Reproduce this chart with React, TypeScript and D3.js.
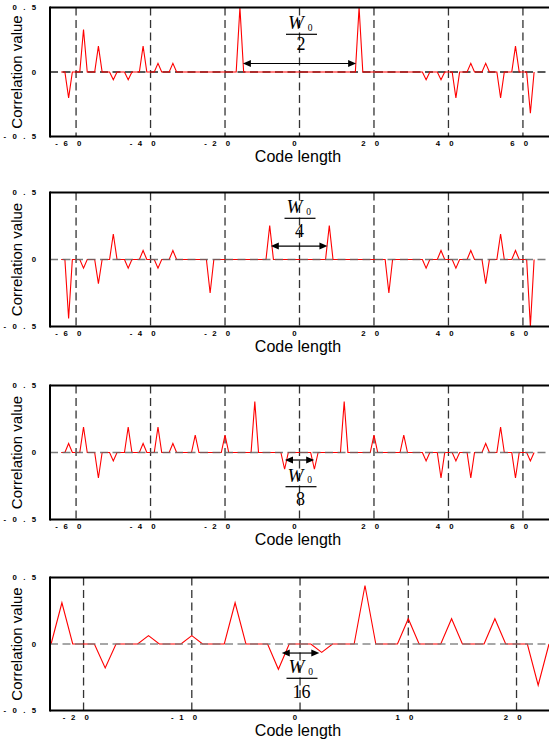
import React from "react";
import * as d3 from "d3";

// Correlation value vs. code length, four stacked panels (W0/2, W0/4, W0/8, W0/16).
// Non-zero lags of each trace; every other integer lag sits on the zero line.
const longLags = d3.range(-64, 64);
const shortLags = d3.range(-23, 24);

const p1Lags = [-62, -58, -54, -50, -46, -42, -38, -34, -16, 16, 34, 38, 42, 46, 50, 54, 58, 62];
const p1Vals = [-0.2, 0.33, 0.2, -0.06, -0.06, 0.2, 0.067, 0.067, 0.5, 0.5, -0.06, -0.06, -0.2, 0.067, 0.067, -0.2, 0.2, -0.32];

const p2Lags = [-62, -58, -54, -50, -46, -42, -38, -34, -24, -8, 8, 24, 34, 38, 42, 46, 50, 54, 58, 62];
const p2Vals = [-0.44, -0.065, -0.18, 0.19, -0.065, 0.067, -0.065, 0.067, -0.25, 0.254, 0.254, -0.25, -0.065, 0.067, -0.065, 0.067, -0.18, 0.19, 0.067, -0.5];

const p3Lags = [-62, -58, -54, -50, -46, -42, -38, -34, -28, -20, -12, -4, 4, 12, 20, 28, 34, 38, 42, 46, 50, 54, 58, 62];
const p3Vals = [0.067, 0.19, -0.19, -0.063, 0.19, 0.067, 0.19, 0.067, 0.13, 0.13, 0.38, -0.125, -0.125, 0.38, 0.13, 0.13, -0.063, -0.19, -0.063, -0.19, 0.067, 0.19, -0.19, -0.063];

const p4Lags = [-22, -18, -14, -10, -6, -2, 2, 6, 10, 14, 18, 22];
const p4Vals = [0.31, -0.18, 0.0625, 0.0625, 0.31, -0.19, -0.0625, 0.44, 0.19, 0.19, 0.19, -0.31];

const longTicks = [-60, -40, -20, 0, 20, 40, 60];
const shortTicks = [-20, -10, 0, 10, 20];
const yTicks = [0.5, 0, -0.5];
const yTickLabels = ["0.5", "0", "-0.5"];
const denominators = ["2", "4", "8", "16"];
const arrowSpans = [[-15.2, 15.2], [-7.7, 7.5], [-3.9, 3.95], [-1.69, 1.78]];
const arrowLevels = [0.066, 0.1, -0.056, -0.068];

const yTitle = "Correlation value";
const xTitle = "Code length";

const SANS = "'Liberation Sans', Arial, Helvetica, sans-serif";
const SERIF = "'Liberation Serif', 'Times New Roman', serif";
const LEFT = 50;
const RIGHT = 549;

type Layout = {
  top: number; bottom: number; tickDy: number; titleDy: number; domain: [number, number];
  zeroOnTop: boolean; zeroColor: string; cx: number; barY: number; numDy: number;
};

const layouts: Layout[] = [
  { top: 7.5, bottom: 136.5, tickDy: 6.5, titleDy: 25, domain: [-67, 67], zeroOnTop: false, zeroColor: "#222", cx: 301, barY: 34.3, numDy: 15.7 },
  { top: 192.5, bottom: 326.5, tickDy: 7, titleDy: 25, domain: [-67, 67], zeroOnTop: true, zeroColor: "#666", cx: 299.5, barY: 218.3, numDy: 18.5 },
  { top: 385.5, bottom: 519.5, tickDy: 7, titleDy: 25, domain: [-67, 67], zeroOnTop: true, zeroColor: "#666", cx: 300.5, barY: 486.7, numDy: 18.3 },
  { top: 577.5, bottom: 710.5, tickDy: 7, titleDy: 25, domain: [-23.1, 23], zeroOnTop: true, zeroColor: "#777", cx: 301.5, barY: 678.3, numDy: 19.5 },
];

function series(lags: number[], nz: number[], vals: number[]) {
  return lags.map((l) => {
    const i = nz.indexOf(l);
    return { x: l, y: i >= 0 ? vals[i] : 0 };
  });
}

const panelData = [
  { pts: series(longLags, p1Lags, p1Vals), ticks: longTicks },
  { pts: series(longLags, p2Lags, p2Vals), ticks: longTicks },
  { pts: series(longLags, p3Lags, p3Vals), ticks: longTicks },
  { pts: series(shortLags, p4Lags, p4Vals), ticks: shortTicks },
];

// spaced-out tick characters, like the original printout
function xTickChars(label: string) {
  if (label.length === 1) return [{ ch: label, dx: -5 }];
  const chars = label.split("");
  const out: { ch: string; dx: number }[] = [];
  const offs = [3, -10.5, -19.5];
  for (let k = 0; k < chars.length; k++) {
    out.push({ ch: chars[chars.length - 1 - k], dx: offs[k] });
  }
  return out;
}

function yTickChars(label: string) {
  const chars = label.split("");
  return chars.map((ch, i) => ({ ch, dx: -(chars.length - 1 - i) * 9.7 }));
}

function Panel({ idx }: { idx: number }) {
  const L = layouts[idx];
  const { pts, ticks } = panelData[idx];
  const x = d3.scaleLinear().domain(L.domain).range([LEFT, RIGHT]);
  const y = d3.scaleLinear().domain([-0.5, 0.5]).range([L.bottom, L.top]);
  const line = d3.line<{ x: number; y: number }>().x((d) => x(d.x)).y((d) => y(d.y));

  const zero = (
    <line x1={LEFT} x2={RIGHT} y1={y(0)} y2={y(0)} stroke={L.zeroColor}
      strokeWidth={1.4} strokeDasharray="8,4.5" opacity={L.zeroOnTop ? 0.85 : 1} />
  );

  const [a0, a1] = arrowSpans[idx];
  const ay = y(arrowLevels[idx]);
  const ax0 = x(a0);
  const ax1 = x(a1);

  const midY = (L.top + L.bottom) / 2;

  return (
    <g>
      {ticks.map((t) => (
        <line key={"v" + t} x1={x(t)} x2={x(t)} y1={L.top} y2={L.bottom}
          stroke="#333" strokeWidth={1.3} strokeDasharray="8,4.5" />
      ))}
      {!L.zeroOnTop && zero}
      <path d={line(pts) || ""} fill="none" stroke="#ff0000" strokeWidth={1.1} />
      {L.zeroOnTop && zero}

      {/* frame: top, left, bottom */}
      <line x1={LEFT} x2={RIGHT + 2} y1={L.top} y2={L.top} stroke="#000" strokeWidth={2} />
      <line x1={LEFT} x2={RIGHT + 2} y1={L.bottom} y2={L.bottom} stroke="#000" strokeWidth={2} />
      <line x1={LEFT} x2={LEFT} y1={L.top - 1} y2={L.bottom + 1} stroke="#000" strokeWidth={2} />

      {/* x tick labels */}
      {ticks.map((t) =>
        xTickChars(String(t)).map((c, k) => (
          <text key={"xt" + t + "_" + k} x={x(t) + c.dx} y={L.bottom + L.tickDy} dy="0.35em"
            textAnchor="middle" fontFamily={SANS} fontWeight="bold" fontSize={7.8} fill="#000">
            {c.ch}
          </text>
        ))
      )}

      {/* y tick labels */}
      {yTicks.map((v, i) =>
        yTickChars(yTickLabels[i]).map((c, k) => (
          <text key={"yt" + i + "_" + k} x={34 + c.dx} y={y(v)} dy="0.35em"
            textAnchor="middle" fontFamily={SANS} fontWeight="bold" fontSize={7.8} fill="#000">
            {c.ch}
          </text>
        ))
      )}

      {/* axis titles */}
      <text transform={`translate(22,${midY}) rotate(-90)`} textAnchor="middle"
        fontFamily={SANS} fontSize={15} fill="#000">{yTitle}</text>
      <text x={298} y={L.bottom + L.titleDy} textAnchor="middle"
        fontFamily={SANS} fontSize={16} fill="#000">{xTitle}</text>

      {/* double arrow */}
      <line x1={ax0 + 5} x2={ax1 - 5} y1={ay} y2={ay} stroke="#000" strokeWidth={1.2} />
      <polygon points={`${ax0},${ay} ${ax0 + 8},${ay - 3.5} ${ax0 + 8},${ay + 3.5}`} fill="#000" />
      <polygon points={`${ax1},${ay} ${ax1 - 8},${ay - 3.5} ${ax1 - 8},${ay + 3.5}`} fill="#000" />

      {/* W0 / n fraction */}
      <text x={L.cx - 5} y={L.barY - 5} textAnchor="middle" fontFamily={SERIF}
        fontStyle="italic" fontSize={19} fill="#000">W</text>
      <text x={L.cx + 9} y={L.barY - 3.5} textAnchor="middle" fontFamily={SERIF}
        fontSize={9.5} fill="#000">0</text>
      <line x1={L.cx - 15} x2={L.cx + 16} y1={L.barY} y2={L.barY} stroke="#000" strokeWidth={1.2} />
      <text x={L.cx} y={L.barY + L.numDy} textAnchor="middle" fontFamily={SERIF}
        fontSize={18} fill="#000">{denominators[idx]}</text>
    </g>
  );
}

export default function App() {
  return (
    <svg width={549} height={743} style={{ position: "absolute", left: 0, top: 0, background: "#fff" }}>
      {layouts.map((_, i) => <Panel key={i} idx={i} />)}
    </svg>
  );
}
